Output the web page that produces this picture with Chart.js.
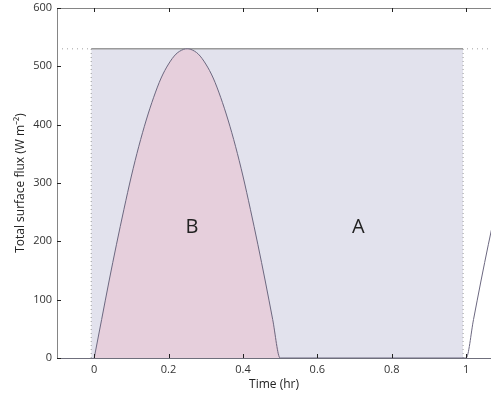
<!DOCTYPE html>
<html>
<head>
<meta charset="utf-8">
<script src="https://cdn.jsdelivr.net/npm/chart.js@4/dist/chart.umd.min.js"></script>
<style>
  html, body { margin: 0; padding: 0; background: #fff; }
  canvas { display: block; }
</style>
</head>
<body>
<canvas id="flux-chart" width="491" height="399"></canvas>
<script>
// surface flux over one cycle (hr, W m^-2)
const timeHr = [0, 0.02, 0.04, 0.06, 0.08, 0.10, 0.12, 0.14, 0.16, 0.18, 0.20, 0.22, 0.24, 0.25,
  0.26, 0.28, 0.30, 0.32, 0.34, 0.36, 0.38, 0.40, 0.42, 0.44, 0.46, 0.48, 0.50,
  0.60, 0.80, 1.00, 1.02, 1.04, 1.06, 1.08];
const fluxW = [0, 66, 132, 195, 255, 312, 363, 408, 447, 480, 504, 521, 529, 530,
  529, 521, 504, 480, 447, 408, 363, 312, 255, 195, 132, 66, 0,
  0, 0, 0, 66, 132, 195, 255];

// daytime part of the curve (area B)
const dayEnd = timeHr.indexOf(0.50);

// constant-flux box (area A)
const boxTime = [-0.008, 0.992];
const boxFlux = [530, 530];

const xTicks = [0, 0.2, 0.4, 0.6, 0.8, 1];
const yTicks = [0, 100, 200, 300, 400, 500, 600];

const areaNames = ["B", "A"];
const areaTime = [0.263, 0.71];
const areaFlux = [224, 224];

const fontFamily = "'Open Sans', 'Noto Sans', sans-serif";

const pts = (xs, ys) => xs.map((x, i) => ({ x, y: ys[i] }));

// box edges, inward ticks and area letters
const framePlugin = {
  id: "frame",
  afterDatasetsDraw(chart) {
    const { ctx, chartArea: a, scales: { x, y } } = chart;
    ctx.save();
    ctx.lineWidth = 1;
    ctx.strokeStyle = "#858585";
    ctx.beginPath();
    ctx.moveTo(a.left + 0.5, a.bottom);
    ctx.lineTo(a.left + 0.5, a.top + 0.5);
    ctx.lineTo(a.right, a.top + 0.5);
    ctx.stroke();
    ctx.strokeStyle = "#6f6f7c";
    ctx.beginPath();
    ctx.moveTo(a.left, a.bottom + 0.5);
    ctx.lineTo(a.right, a.bottom + 0.5);
    ctx.stroke();

    ctx.strokeStyle = "#222";
    ctx.beginPath();
    xTicks.forEach(v => {
      const px = Math.round(x.getPixelForValue(v)) + 0.5;
      ctx.moveTo(px, a.bottom);
      ctx.lineTo(px, a.bottom - 4);
      ctx.moveTo(px, a.top);
      ctx.lineTo(px, a.top + 4);
    });
    yTicks.forEach(v => {
      const py = Math.round(y.getPixelForValue(v)) + 0.5;
      ctx.moveTo(a.left, py);
      ctx.lineTo(a.left + 4, py);
    });
    ctx.stroke();

    ctx.fillStyle = "#222";
    ctx.font = "20px " + fontFamily;
    ctx.textAlign = "center";
    ctx.textBaseline = "middle";
    areaNames.forEach((name, i) => {
      ctx.fillText(name, x.getPixelForValue(areaTime[i]), y.getPixelForValue(areaFlux[i]));
    });
    ctx.restore();
  }
};

new Chart(document.getElementById("flux-chart"), {
  type: "line",
  data: {
    datasets: [
      {
        // flux curve
        data: pts(timeHr, fluxW),
        borderColor: "#6c6880",
        borderWidth: 1,
        fill: false,
        cubicInterpolationMode: "monotone",
        order: 1
      },
      {
        // box sides
        data: pts([boxTime[0], boxTime[0]], [0, boxFlux[0]]),
        borderColor: "#9a9a9a",
        borderWidth: 1,
        borderDash: [1, 3],
        fill: false,
        order: 2
      },
      {
        data: pts([boxTime[1], boxTime[1]], [0, boxFlux[1]]),
        borderColor: "#9a9a9a",
        borderWidth: 1,
        borderDash: [1, 3],
        fill: false,
        order: 3
      },
      {
        // area B
        data: pts(timeHr.slice(0, dayEnd + 1), fluxW.slice(0, dayEnd + 1)),
        borderWidth: 0,
        backgroundColor: "#e6cfdc",
        fill: "origin",
        cubicInterpolationMode: "monotone",
        order: 4
      },
      {
        // area A
        data: pts(boxTime, boxFlux),
        borderColor: "#9a9a9a",
        borderWidth: 1.5,
        backgroundColor: "#e2e2ed",
        fill: "origin",
        order: 5
      },
      {
        // dotted level line across the plot
        data: pts([-0.1, 1.2], boxFlux),
        borderColor: "#a0a0a0",
        borderWidth: 1,
        borderDash: [1, 4],
        fill: false,
        order: 6
      }
    ]
  },
  options: {
    responsive: false,
    animation: false,
    devicePixelRatio: 1,
    layout: { padding: { top: 8, right: 0, left: 0, bottom: 0 } },
    elements: { point: { radius: 0 } },
    plugins: { legend: { display: false }, tooltip: { enabled: false } },
    scales: {
      x: {
        type: "linear",
        min: -0.1,
        max: 1.067,
        afterBuildTicks: s => { s.ticks = xTicks.map(value => ({ value })); },
        afterFit: s => { s.height = 41; s.paddingLeft = 0; s.paddingRight = 0; },
        grid: { display: false, drawTicks: false },
        border: { display: false },
        ticks: {
          padding: 5,
          color: "#333",
          font: { family: fontFamily, size: 11 },
          callback: v => String(Math.round(v * 10) / 10)
        },
        title: {
          display: true,
          text: "Time (hr)",
          color: "#222",
          font: { family: fontFamily, size: 12 },
          padding: { top: 0, bottom: 7 }
        }
      },
      y: {
        min: 0,
        max: 600,
        afterBuildTicks: s => { s.ticks = yTicks.map(value => ({ value })); },
        afterFit: s => { s.width = 57; s.paddingTop = 0; s.paddingBottom = 0; },
        grid: { display: false, drawTicks: false },
        border: { display: false },
        ticks: {
          padding: 5,
          color: "#333",
          font: { family: fontFamily, size: 11 }
        },
        title: {
          display: true,
          text: "Total surface flux (W m\u207B\u00B2)",
          color: "#222",
          font: { family: fontFamily, size: 12 },
          padding: { top: 13, bottom: 0 }
        }
      }
    }
  },
  plugins: [framePlugin]
});
</script>
</body>
</html>
